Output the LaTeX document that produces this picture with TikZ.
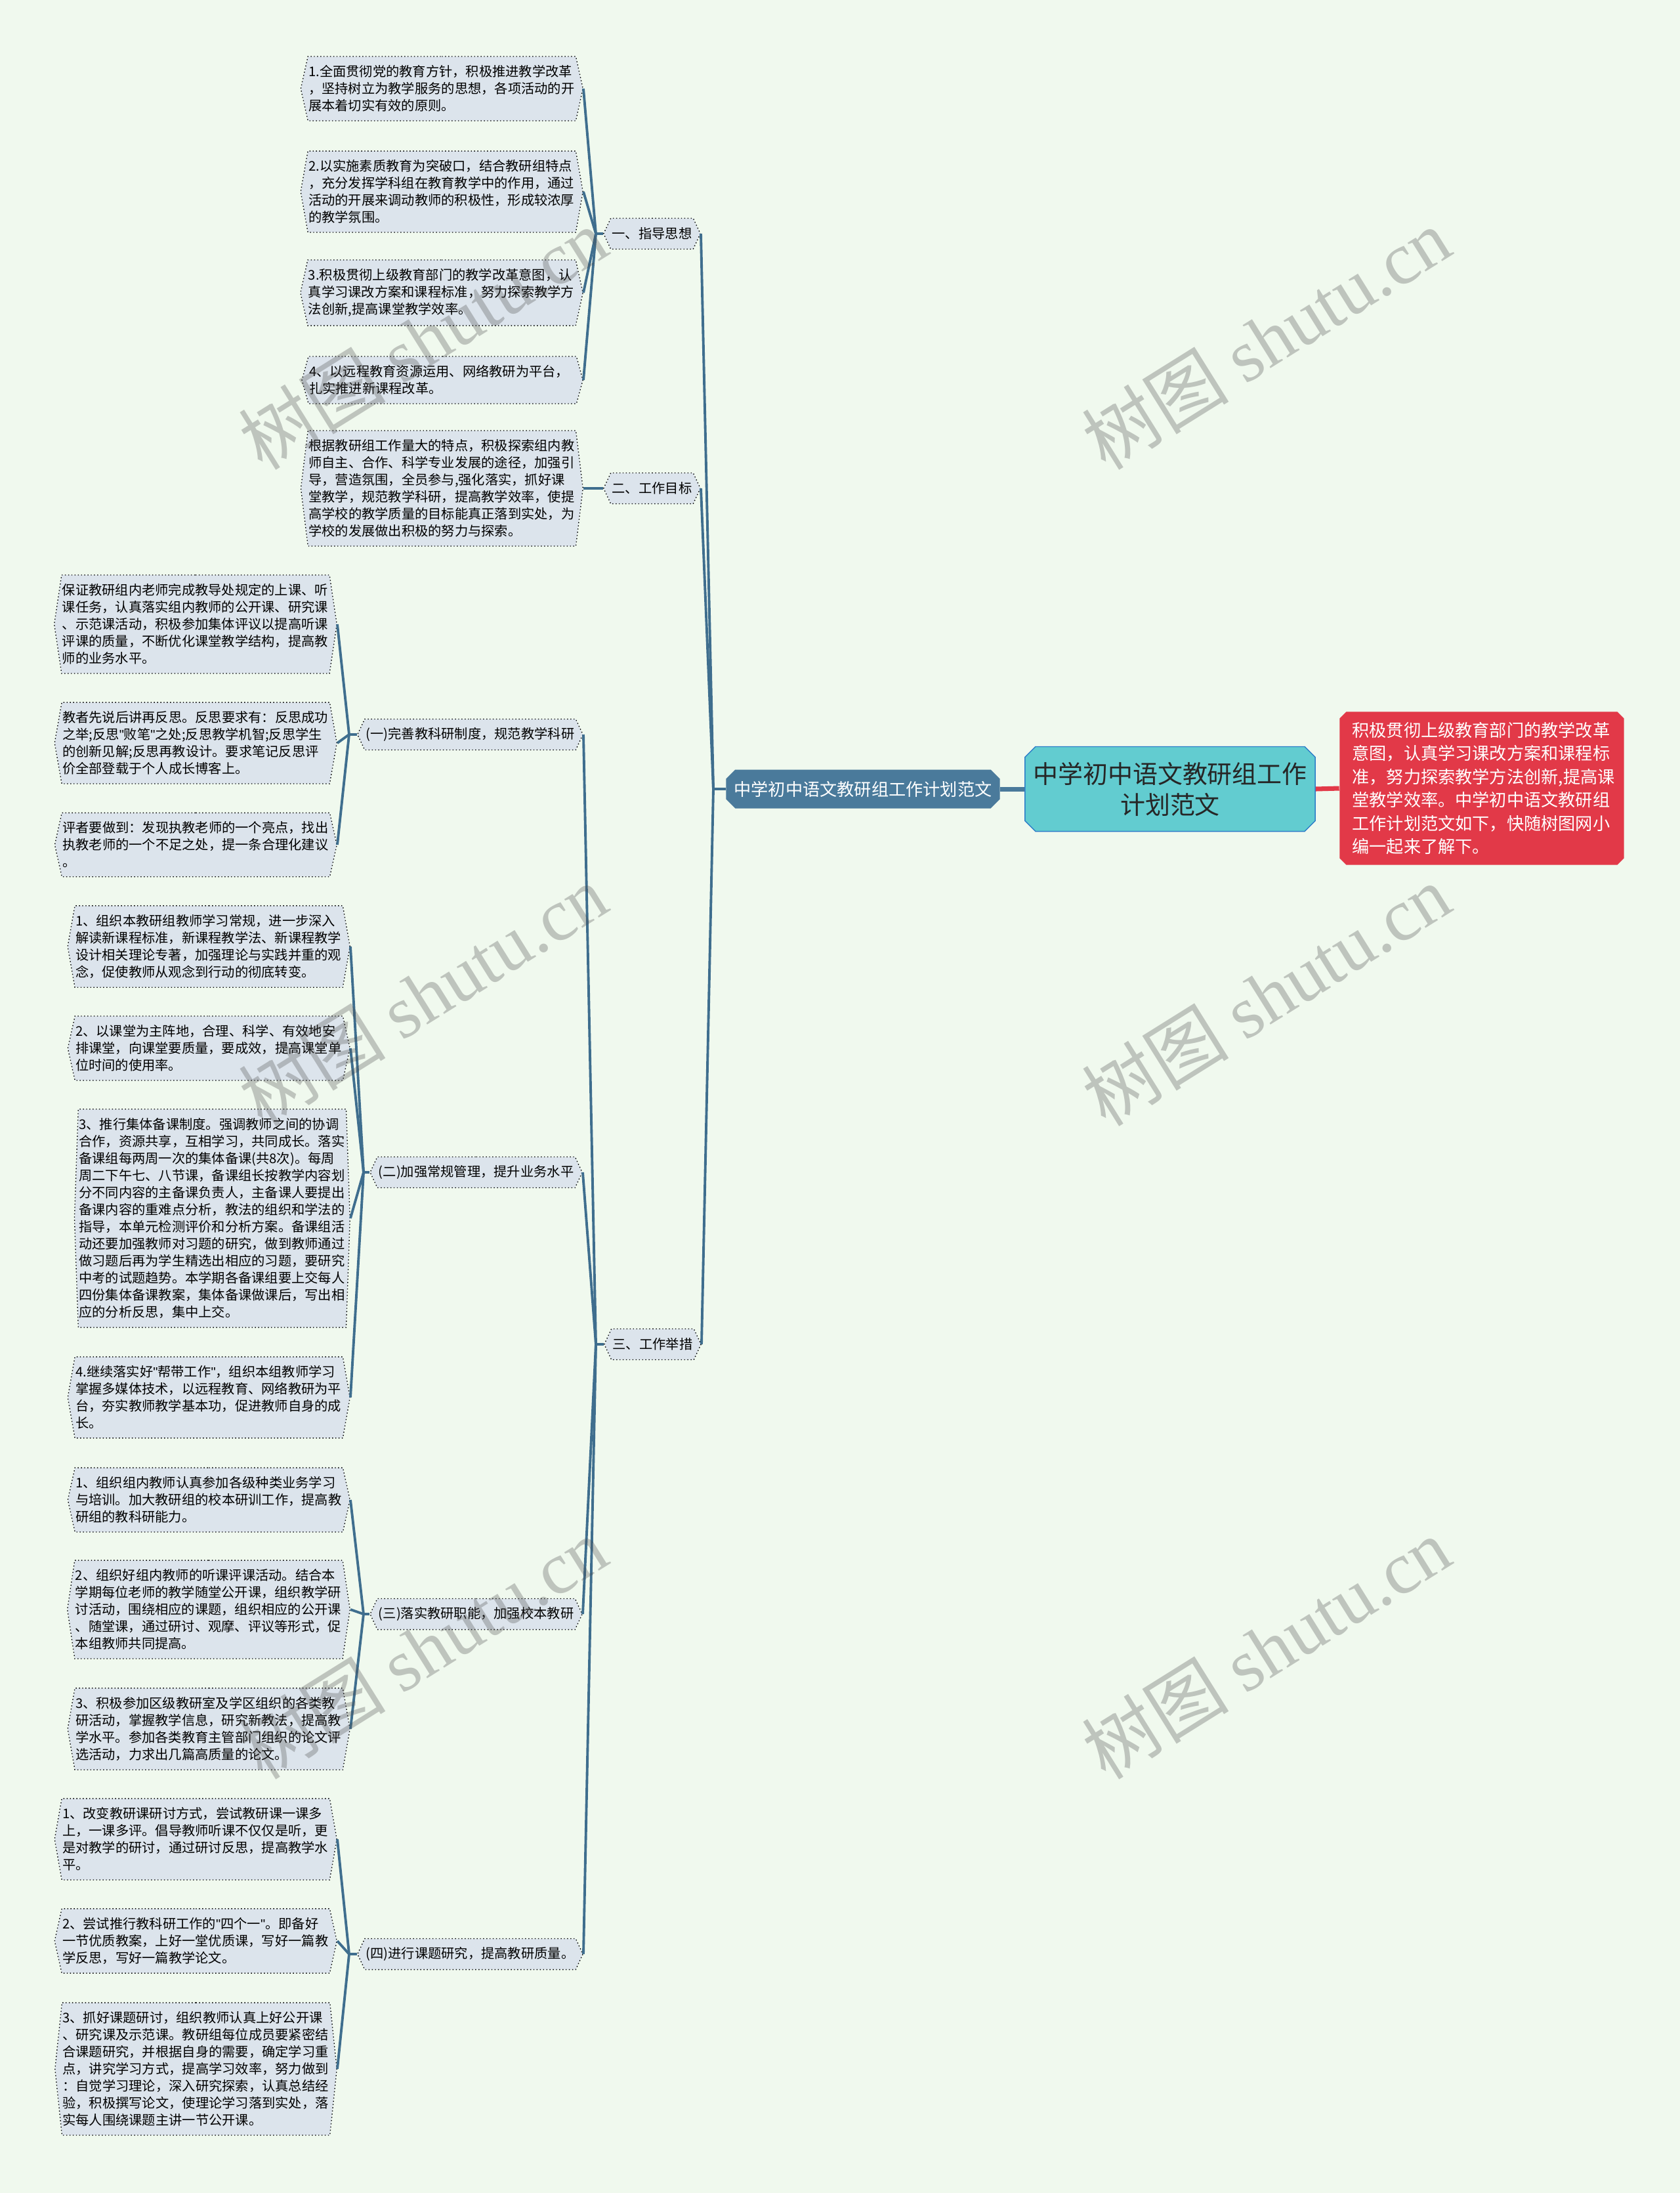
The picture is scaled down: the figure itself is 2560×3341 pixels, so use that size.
\documentclass[tikz,border=0pt]{standalone}
\usepackage{fontspec}
\setmainfont{Noto Sans CJK SC}
\newfontfamily\wmfont{Liberation Serif}
\newfontfamily\latin{Liberation Sans}
\usetikzlibrary{shapes.symbols,shapes.misc}
\definecolor{bgc}{HTML}{F0F9EE}
\definecolor{leafc}{HTML}{DCE4EC}
\definecolor{linec}{HTML}{3F6E8E}
\definecolor{lvonec}{HTML}{4A7A9B}
\definecolor{rootc}{HTML}{62CCD0}
\definecolor{rootlinec}{HTML}{2D7DC8}
\definecolor{notec}{HTML}{E23948}
\newcommand{\qt}{{\latin"}}
\begin{document}
\begin{tikzpicture}
[x=0.01cm,y=-0.01cm,
leaf/.style={signal,signal to=west and east,signal pointer angle=#1,draw=black,densely dotted,fill=leafc,text width=4.06cm,align=left,inner xsep=0.01cm,inner ysep=0.135cm,font=\fontsize{5.76}{7.4}\selectfont,anchor=east},
leaf/.default=160,
branch/.style={signal,signal to=west and east,signal pointer angle=130,draw=black,densely dotted,fill=leafc,inner xsep=0.02cm,minimum height=0.47cm,font=\fontsize{5.76}{7.4}\selectfont,anchor=east},
root/.style={chamfered rectangle,chamfered rectangle xsep=0.08cm,chamfered rectangle ysep=0.08cm,draw=rootlinec,thin,fill=rootc,text=black!85,align=center,minimum width=4.42cm,minimum height=1.29cm,inner sep=0pt,font=\fontsize{10.8}{13.4}\selectfont},
lvone/.style={chamfered rectangle,chamfered rectangle xsep=0.07cm,chamfered rectangle ysep=0.07cm,fill=lvonec,text=white,minimum width=4.17cm,minimum height=0.59cm,inner sep=0pt,font=\fontsize{7.45}{9}\selectfont},
note/.style={chamfered rectangle,chamfered rectangle xsep=0.05cm,chamfered rectangle ysep=0.05cm,fill=notec,text=white,text width=3.95cm,align=left,minimum width=4.33cm,minimum height=2.33cm,inner sep=0pt,font=\fontsize{7.45}{10.1}\selectfont},
link/.style={draw=linec,line width=1.1pt},
wm/.style={rotate=32,text=black!70,text opacity=0.3,font=\fontsize{32}{32}\selectfont}]
\fill [bgc] (0,0) rectangle (2560,3341);
\useasboundingbox (0,0) rectangle (2560,3341);

\node[root] (0) at (1783,1202) {中学初中语文教研组工作\\计划范文};
\node[note] (01) at (2258,1201) {积极贯彻上级教育部门的教学改革\\意图，认真学习课改方案和课程标\\准，努力探索教学方法创新,提高课\\堂教学效率。中学初中语文教研组\\工作计划范文如下，快随树图网小\\编一起来了解下。};
\node[lvone] (1) at (1315,1202) {中学初中语文教研组工作计划范文};

\node[branch] (11) at (1068,356) {一、指导思想};
\node[branch] (12) at (1068,744) {二、工作目标};
\node[branch] (13) at (1069,2048) {三、工作举措};

\node[leaf=155] (111) at (889,135) {1.全面贯彻党的教育方针，积极推进教学改革\\，坚持树立为教学服务的思想，各项活动的开\\展本着切实有效的原则。};
\node[leaf=160] (112) at (889,292) {2.以实施素质教育为突破口，结合教研组特点\\，充分发挥学科组在教育教学中的作用，通过\\活动的开展来调动教师的积极性，形成较浓厚\\的教学氛围。};
\node[leaf=155] (113) at (889,446) {3.积极贯彻上级教育部门的教学改革意图，认\\真学习课改方案和课程标准，努力探索教学方\\法创新,提高课堂教学效率。};
\node[leaf=149] (114) at (889,579) {4、以远程教育资源运用、网络教研为平台，\\扎实推进新课程改革。};
\node[leaf=166] (121) at (889,744) {根据教研组工作量大的特点，积极探索组内教\\师自主、合作、科学专业发展的途径，加强引\\导，营造氛围，全员参与,强化落实，抓好课\\堂教学，规范教学科研，提高教学效率，使提\\高学校的教学质量的目标能真正落到实处，为\\学校的发展做出积极的努力与探索。};

\node[branch] (131) at (889,1119) {(一)完善教科研制度，规范教学科研};
\node[branch] (132) at (888,1786) {(二)加强常规管理，提升业务水平};
\node[branch] (133) at (888,2459) {(三)落实教研职能，加强校本教研};
\node[branch] (134) at (889,2977) {(四)进行课题研究，提高教研质量。};

\node[leaf=163] (1311) at (514,951) {保证教研组内老师完成教导处规定的上课、听\\课任务，认真落实组内教师的公开课、研究课\\、示范课活动，积极参加集体评议以提高听课\\评课的质量，不断优化课堂教学结构，提高教\\师的业务水平。};
\node[leaf=160] (1312) at (514,1132) {教者先说后讲再反思。反思要求有：反思成功\\之举;反思\qt 败笔\qt 之处;反思教学机智;反思学生\\的创新见解;反思再教设计。要求笔记反思评\\价全部登载于个人成长博客上。};
\node[leaf=155] (1313) at (514,1287) {评者要做到：发现执教老师的一个亮点，找出\\执教老师的一个不足之处，提一条合理化建议\\。};

\node[leaf=160] (1321) at (534,1442) {1、组织本教研组教师学习常规，进一步深入\\解读新课程标准，新课程教学法、新课程教学\\设计相关理论专著，加强理论与实践并重的观\\念，促使教师从观念到行动的彻底转变。};
\node[leaf=155] (1322) at (534,1597) {2、以课堂为主阵地，合理、科学、有效地安\\排课堂，向课堂要质量，要成效，提高课堂单\\位时间的使用率。};
\node[leaf=176] (1323) at (534,1856) {3、推行集体备课制度。强调教师之间的协调\\合作，资源共享，互相学习，共同成长。落实\\备课组每两周一次的集体备课(共8次)。每周\\周二下午七、八节课，备课组长按教学内容划\\分不同内容的主备课负责人，主备课人要提出\\备课内容的重难点分析，教法的组织和学法的\\指导，本单元检测评价和分析方案。备课组活\\动还要加强教师对习题的研究，做到教师通过\\做习题后再为学生精选出相应的习题，要研究\\中考的试题趋势。本学期各备课组要上交每人\\四份集体备课教案，集体备课做课后，写出相\\应的分析反思，集中上交。};
\node[leaf=160] (1324) at (534,2129) {4.继续落实好\qt 帮带工作\qt ，组织本组教师学习\\掌握多媒体技术，以远程教育、网络教研为平\\台，夯实教师教学基本功，促进教师自身的成\\长。};

\node[leaf=155] (1331) at (534,2285) {1、组织组内教师认真参加各级种类业务学习\\与培训。加大教研组的校本研训工作，提高教\\研组的教科研能力。};
\node[leaf=163] (1332) at (534,2452) {2、组织好组内教师的听课评课活动。结合本\\学期每位老师的教学随堂公开课，组织教学研\\讨活动，围绕相应的课题，组织相应的公开课\\、随堂课，通过研讨、观摩、评议等形式，促\\本组教师共同提高。};
\node[leaf=160] (1333) at (534,2634) {3、积极参加区级教研室及学区组织的各类教\\研活动，掌握教学信息，研究新教法，提高教\\学水平。参加各类教育主管部门组织的论文评\\选活动，力求出几篇高质量的论文。};

\node[leaf=160] (1341) at (514,2802) {1、改变教研课研讨方式，尝试教研课一课多\\上，一课多评。倡导教师听课不仅仅是听，更\\是对教学的研讨，通过研讨反思，提高教学水\\平。};
\node[leaf=155] (1342) at (514,2957) {2、尝试推行教科研工作的\qt 四个一\qt 。即备好\\一节优质教案，上好一堂优质课，写好一篇教\\学反思，写好一篇教学论文。};
\node[leaf=168] (1343) at (514,3152) {3、抓好课题研讨，组织教师认真上好公开课\\、研究课及示范课。教研组每位成员要紧密结\\合课题研究，并根据自身的需要，确定学习重\\点，讲究学习方式，提高学习效率，努力做到\\：自觉学习理论，深入研究探索，认真总结经\\验，积极撰写论文，使理论学习落到实处，落\\实每人围绕课题主讲一节公开课。};

\coordinate (1x) at (1087,1202);
\coordinate (11x) at (908,356);
\coordinate (13x) at (908,2048);
\coordinate (131x) at (532,1119);
\coordinate (132x) at (554,1786);
\coordinate (133x) at (554,2459);
\coordinate (134x) at (532,2977);

\draw [line width=2pt,lvonec] (1.east) -- (0.west);
\draw [line width=2pt,notec] (0.east) -- (01.west);

\draw [link] (1.west) -- (1x);
\draw [link] (1x) -- (11.east);
\draw [link] (1x) -- (12.east);
\draw [link] (1x) -- (13.east);

\draw [link] (11.west) -- (11x);
\draw [link] (11x) -- (111.east);
\draw [link] (11x) -- (112.east);
\draw [link] (11x) -- (113.east);
\draw [link] (11x) -- (114.east);

\draw [link] (12.west) -- (121.east);

\draw [link] (13.west) -- (13x);
\draw [link] (13x) -- (131.east);
\draw [link] (13x) -- (132.east);
\draw [link] (13x) -- (133.east);
\draw [link] (13x) -- (134.east);

\draw [link] (131.west) -- (131x);
\draw [link] (131x) -- (1311.east);
\draw [link] (131x) -- (1312.east);
\draw [link] (131x) -- (1313.east);

\draw [link] (132.west) -- (132x);
\draw [link] (132x) -- (1321.east);
\draw [link] (132x) -- (1322.east);
\draw [link] (132x) -- (1323.east);
\draw [link] (132x) -- (1324.east);

\draw [link] (133.west) -- (133x);
\draw [link] (133x) -- (1331.east);
\draw [link] (133x) -- (1332.east);
\draw [link] (133x) -- (1333.east);

\draw [link] (134.west) -- (134x);
\draw [link] (134x) -- (1341.east);
\draw [link] (134x) -- (1342.east);
\draw [link] (134x) -- (1343.east);

\node[wm] (w1) at (644,516) {树图 {\wmfont shutu.cn}};
\node[wm] (w2) at (1929,516) {树图 {\wmfont shutu.cn}};
\node[wm] (w3) at (644,1516) {树图 {\wmfont shutu.cn}};
\node[wm] (w4) at (1929,1516) {树图 {\wmfont shutu.cn}};
\node[wm] (w5) at (644,2511) {树图 {\wmfont shutu.cn}};
\node[wm] (w6) at (1929,2511) {树图 {\wmfont shutu.cn}};
\end{tikzpicture}
\end{document}
